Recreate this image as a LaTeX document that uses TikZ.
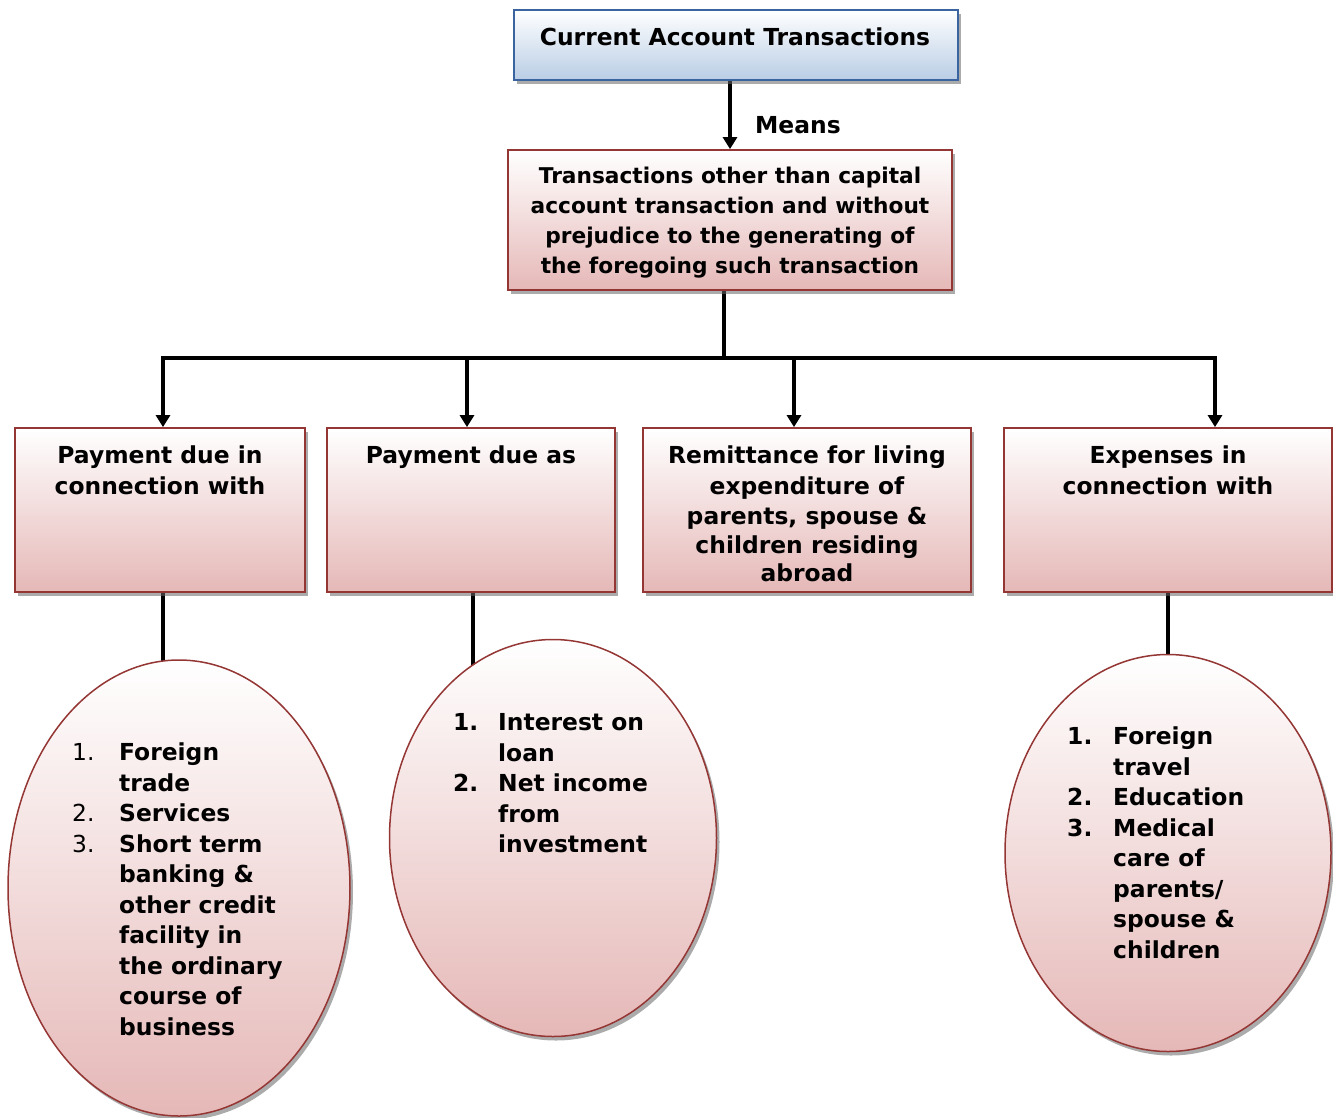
\documentclass[tikz,border=0pt]{standalone}
\usepackage{fontspec}
\setmainfont{DejaVu Sans}
\usetikzlibrary{arrows.meta,shadows,shapes.geometric,backgrounds}
\definecolor{redb}{HTML}{943634}
\definecolor{redf}{HTML}{E5B8B7}
\definecolor{blueb}{HTML}{3A64A0}
\definecolor{bluef}{HTML}{B9CDE5}
\newcommand\ftxt{\fontsize{23.4}{30.5}\selectfont\bfseries}
\tikzset{
  shad/.style={drop shadow={shadow xshift=3pt,shadow yshift=-4pt,fill=black!60,opacity=0.55}},
  redbox/.style={rectangle, draw=redb, line width=1.8pt, top color=white, bottom color=redf, shad, inner sep=0pt},
  bluebox/.style={rectangle, draw=blueb, line width=1.8pt, top color=white, bottom color=bluef, shad, inner sep=0pt},
  redell/.style={ellipse, draw=redb, line width=1.5pt, top color=white, bottom color=redf, shad, inner sep=0pt},
  txt/.style={inner sep=0pt, align=center, font=\ftxt},
  conn/.style={line width=3.2pt, black},
  arr/.style={conn, -{Triangle[width=14pt,length=12pt]}},
}
\begin{document}
\begin{tikzpicture}[x=1pt,y=-1pt]
\useasboundingbox (0,0) rectangle (1333,1117);
% boxes
\node[bluebox, minimum width=444pt, minimum height=70pt] (top) at (736,45) {};
\node[txt] (topt) at (735,37) {Current Account Transactions};
\node[redbox, minimum width=444pt, minimum height=140pt] (mid) at (730,220) {};
\node[txt, font=\fontsize{21.7}{30}\selectfont\bfseries] (midt) at (730,223)
  {Transactions other than capital\\account transaction and without\\prejudice to the generating of\\the foregoing such transaction};
\node[txt, anchor=west] (means) at (755,125) {Means};

\node[redbox, minimum width=290pt, minimum height=164pt] (b1) at (160,510) {};
\node[redbox, minimum width=288pt, minimum height=164pt] (b2) at (471,510) {};
\node[redbox, minimum width=328pt, minimum height=164pt] (b3) at (807,510) {};
\node[redbox, minimum width=328pt, minimum height=164pt] (b4) at (1168,510) {};
\node[txt, anchor=north] (b1t) at (160,446) {Payment due in\\connection with};
\node[txt, anchor=north] (b2t) at (471,446) {Payment due as};
\node[txt, anchor=north] (b3t) at (807,446) {Remittance for living\\expenditure of\\parents, spouse \&\\[-2pt]children residing\\[-2.5pt]abroad};
\node[txt, anchor=north] (b4t) at (1168,446) {Expenses in\\connection with};

% ellipses
\node[redell, minimum width=342pt, minimum height=456pt] (e1) at (179,888) {};
\node[redell, minimum width=327pt, minimum height=397pt] (e2) at (553,838) {};
\node[redell, minimum width=326pt, minimum height=397pt] (e3) at (1168,853) {};

\node[txt, align=left, anchor=north west] (e1t) at (72,739) {%
\begin{tabular}{@{}p{47pt}@{}l@{}}
\mdseries 1. & Foreign\\
 & trade\\
\mdseries 2. & Services\\
\mdseries 3. & Short term\\
 & banking \&\\
 & other credit\\
 & facility in\\
 & the ordinary\\
 & course of\\
 & business
\end{tabular}};
\node[txt, align=left, anchor=north west] (e2t) at (453,709) {%
\begin{tabular}{@{}p{45pt}@{}l@{}}
1. & Interest on\\
 & loan\\
2. & Net income\\
 & from\\
 & investment
\end{tabular}};
\node[txt, align=left, anchor=north west] (e3t) at (1067,723) {%
\begin{tabular}{@{}p{46pt}@{}l@{}}
1. & Foreign\\
 & travel\\
2. & Education\\
3. & Medical\\
 & care of\\
 & parents/\\
 & spouse \&\\
 & children
\end{tabular}};

% bus coordinates
\coordinate (jc) at (724,358);
\coordinate (j1) at (163,358);
\coordinate (j2) at (467,358);
\coordinate (j3) at (794,358);
\coordinate (j4) at (1215,358);

\begin{scope}[on background layer]
\draw[arr] (mid.north |- top.south) -- (mid.north);
\draw[conn] (jc |- mid.south) -- (jc);
\draw[conn, line cap=rect] (j1) -- (j4);
\draw[arr] (j1) -- (j1 |- b1.north);
\draw[arr] (j2) -- (j2 |- b2.north);
\draw[arr] (j3) -- (j3 |- b3.north);
\draw[arr] (j4) -- (j4 |- b4.north);
\draw[conn] (j1 |- b1.south) -- (j1 |- e1.center);
\draw[conn] (473,592) coordinate (s2) -- (s2 |- e2.center);
\draw[conn] (b4.south) -- (e3.center);
\end{scope}
\end{tikzpicture}
\end{document}
